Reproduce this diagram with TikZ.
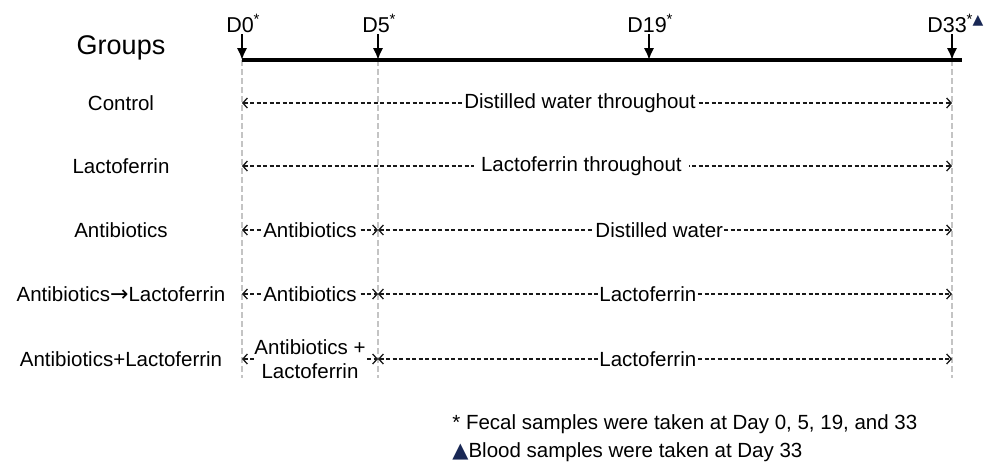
\documentclass[tikz,border=0pt]{standalone}
\usepackage{fontspec}
\setmainfont{Liberation Sans}
\newfontfamily\symfont{DejaVu Sans}
\usepackage{tikz}
\usetikzlibrary{arrows,arrows.meta,positioning}

\definecolor{guidegray}{RGB}{196,196,196}
\definecolor{navy}{RGB}{25,40,85}
\newcommand{\tri}{{\symfont\color{navy}▲}}
\newcommand{\thento}{{\fontsize{22}{24}\symfont →}}

\begin{document}
\begin{tikzpicture}[x=1pt, y=-1pt, >=latex', thick,
    font=\fontsize{20.5}{24}\selectfont,
    group/.style={text centered, text height=14.5pt, text depth=0pt},
    day/.style={inner sep=0pt, text depth=0pt, font=\fontsize{21.5}{24}\selectfont},
    tick/.style={draw, -{Latex[length=12pt,width=10.5pt]}, line width=2.4pt, shorten <=2pt},
    axis/.style={draw, line width=3.2pt},
    guide/.style={draw=guidegray, line width=1.5pt, dash pattern=on 6pt off 3pt},
    span/.style={draw=black!90, line width=1.1pt, dash pattern=on 4pt off 2.5pt, <->, >={Straight Barb[length=4.5pt,width=10pt,line width=1.3pt]}},
    phase/.style={fill=white, inner sep=1pt, align=center},
    note/.style={anchor=west, inner sep=0pt}]
    \useasboundingbox (0,0) rectangle (987,469);

    % timeline
    \coordinate (d0) at (242,60);
    \coordinate (d5) at (378,60);
    \coordinate (d19) at (649,60);
    \coordinate (d33) at (952,60);
    \coordinate (tend) at (962,60);
    \coordinate (bot) at (0,378);

    \draw[guide] (d0) -- (d0 |- bot);
    \draw[guide] (d5) -- (d5 |- bot);
    \draw[guide] (d33) -- (d33 |- bot);

    \node[day, anchor=base] (l0) at (240,32) {D0\rlap{\textsuperscript{*}}};
    \node[day, anchor=base] (l5) at (376,32) {D5\rlap{\textsuperscript{*}}};
    \node[day, anchor=base] (l19) at (647,32) {D19\rlap{\textsuperscript{*}}};
    \node[day, anchor=base] (l33) at (947,32) {D33\rlap{\textsuperscript{*{\fontsize{14}{14}\selectfont\tri}}}};

    \path[axis] (d0) -- (tend);
    \path[tick] (l0.south -| d0) -- (d0);
    \path[tick] (l5.south -| d5) -- (d5);
    \path[tick] (l19.south -| d19) -- (d19);
    \path[tick] (l33.south -| d33) -- (d33);

    % groups
    \node[group, font=\fontsize{27}{30}\selectfont, text height=19pt] (grp) at (121,45) {Groups};
    \node[group] (ctl) at (121,103) {Control};
    \node[group, below of=ctl, node distance=63pt] (lac) {Lactoferrin};
    \node[group, below of=lac, node distance=64pt] (abx) {Antibiotics};
    \node[group, below of=abx, node distance=64pt] (abxlac) {Antibiotics\thento Lactoferrin};
    \node[group, below of=abxlac, node distance=65pt] (combo) {Antibiotics+Lactoferrin};

    % treatments
    \draw[span] (ctl -| d0) -- node[phase, pos=.476] {Distilled water throughout} (ctl -| d33);
    \draw[span] (lac -| d0) -- node[phase, pos=.478, inner xsep=7pt] {Lactoferrin throughout} (lac -| d33);
    \draw[span] (abx -| d0) -- node[phase] {Antibiotics} (abx -| d5);
    \draw[span] (abx -| d5) -- node[phase, pos=.49] {Distilled water} (abx -| d33);
    \draw[span] (abxlac -| d0) -- node[phase] {Antibiotics} (abxlac -| d5);
    \draw[span] (abxlac -| d5) -- node[phase, pos=.47] {Lactoferrin} (abxlac -| d33);
    \draw[span] (combo -| d0) -- node[phase, inner sep=0pt] {Antibiotics +\\Lactoferrin} (combo -| d5);
    \draw[span] (combo -| d5) -- node[phase, pos=.47] {Lactoferrin} (combo -| d33);

    % notes
    \node[note] (fecal) at (452,424) {* Fecal samples were taken at Day 0, 5, 19, and 33};
    \node[note] (blood) at (452,452) {{\fontsize{21}{21}\selectfont\tri}Blood samples were taken at Day 33};

\end{tikzpicture}
\end{document}
